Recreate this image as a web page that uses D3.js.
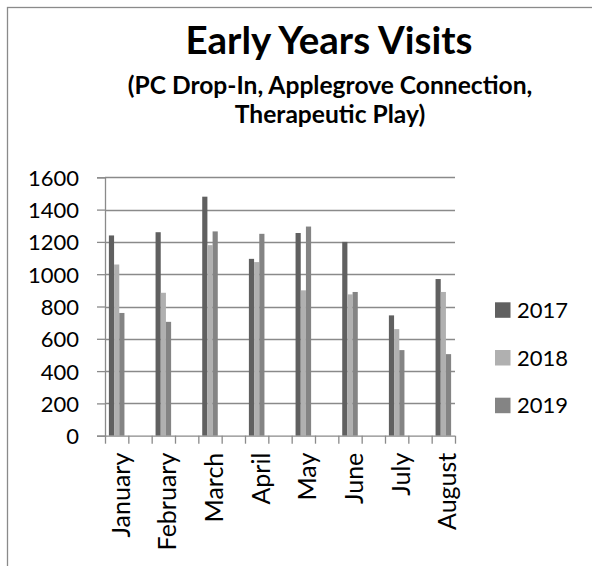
<!DOCTYPE html>
<html><head><meta charset="utf-8">
<script src="https://cdn.jsdelivr.net/npm/d3@7"></script>
<style>html,body{margin:0;padding:0;background:#fff;}svg{display:block;}</style>
</head><body>
<script>
const categories = ["January","February","March","April","May","June","July","August"];
const seriesNames = ["2017","2018","2019"];
const s2017 = [1240, 1260, 1480, 1095, 1255, 1200, 745, 970];
const s2018 = [1060, 885, 1180, 1075, 900, 875, 660, 890];
const s2019 = [760, 705, 1265, 1250, 1295, 890, 530, 505];
const yTicks = [0, 200, 400, 600, 800, 1000, 1200, 1400, 1600];
const titleText = "Early Years Visits";
const subtitleLines = ["(PC Drop-In, Applegrove Connection,", "Therapeutic Play)"];
const colors = ["#606060", "#b0b0b0", "#848484"];

(function () {
const W = 592, H = 566;
const seriesData = [s2017, s2018, s2019];
const svg = d3.select("body").append("svg").attr("width", W).attr("height", H);
const font = "Lato, 'Open Sans', sans-serif";

// chart border (cropped on right/bottom)
svg.append("rect").attr("x", 7.5).attr("y", 7.5).attr("width", 700).attr("height", 700)
  .attr("fill", "none").attr("stroke", "#8a8a8a").attr("stroke-width", 1.3);

// title
svg.append("text").attr("x", 329).attr("y", 54).attr("text-anchor", "middle")
  .attr("font-family", font).attr("font-weight", "bold").attr("font-size", 38.5).attr("fill", "#000")
  .text(titleText);
subtitleLines.forEach((t, i) => {
  svg.append("text").attr("x", 330).attr("y", 94 + i * 29).attr("text-anchor", "middle")
    .attr("font-family", font).attr("font-weight", "bold").attr("font-size", 24.6).attr("fill", "#000")
    .text(t);
});

const pl = 105, pr = 455, pt = 177.3, pb = 435.7;
const y = d3.scaleLinear().domain([0, 1600]).range([pb, pt]);

// slots: categories interleaved with empty slots
const slots = [];
categories.forEach((c, i) => { slots.push(c); if (i < categories.length - 1) slots.push("gap" + i); });
const xSlot = d3.scaleBand().domain(slots).range([pl, pr]).paddingInner(0).paddingOuter(0);
const xInner = d3.scaleBand().domain(seriesNames).range([0, xSlot.bandwidth()]).paddingInner(0).paddingOuter(0.75);

// gridlines
svg.append("g").selectAll("line").data(yTicks.filter(v => v > 0)).join("line")
  .attr("x1", pl).attr("x2", pr).attr("y1", d => Math.round(y(d)) + 0.5).attr("y2", d => Math.round(y(d)) + 0.5)
  .attr("stroke", "#8a8a8a").attr("stroke-width", 1.3);

// bars
seriesNames.forEach((s, si) => {
  svg.append("g").selectAll("rect").data(categories).join("rect")
    .attr("x", (c) => xSlot(c) + xInner(s))
    .attr("width", xInner.bandwidth())
    .attr("y", (c, i) => y(seriesData[si][i]))
    .attr("height", (c, i) => y(0) - y(seriesData[si][i]))
    .attr("fill", colors[si]);
});

// y axis
const yAxis = svg.append("g").attr("transform", `translate(${pl},0)`)
  .call(d3.axisLeft(y).tickValues(yTicks).tickSize(8).tickPadding(18).tickFormat(d3.format("d")));
yAxis.select(".domain").attr("stroke", "#8a8a8a").attr("stroke-width", 1.3);
yAxis.selectAll(".tick line").attr("stroke", "#8a8a8a").attr("stroke-width", 1.3);
yAxis.selectAll(".tick text").attr("font-family", font).attr("font-size", 22).attr("fill", "#000").attr("dy", "0.36em");

// x axis
const xLin = d3.scaleLinear().domain([0, slots.length]).range([pl, pr]);
const xAxis = svg.append("g").attr("transform", `translate(0,${pb})`)
  .call(d3.axisBottom(xLin).tickValues(d3.range(slots.length + 1)).tickSize(8).tickFormat(""));
xAxis.select(".domain").attr("stroke", "#8a8a8a").attr("stroke-width", 1.3).attr("d", `M${pl},0.5H${pr}`);
xAxis.selectAll(".tick line").attr("stroke", "#8a8a8a").attr("stroke-width", 1.3);

// x labels rotated
svg.append("g").selectAll("text").data(categories).join("text")
  .attr("transform", c => `translate(${xSlot(c) + xSlot.bandwidth() / 2 + 3},${pb + 17}) rotate(-90)`)
  .attr("text-anchor", "end").attr("dominant-baseline", "central")
  .attr("font-family", font).attr("font-size", 25).attr("fill", "#000")
  .text(c => c);

// legend
const lg = svg.append("g");
seriesNames.forEach((s, i) => {
  const cy = 310 + i * 47.7;
  lg.append("rect").attr("x", 495).attr("y", cy - 7.7).attr("width", 15.5).attr("height", 15.5).attr("fill", colors[i]);
  lg.append("text").attr("x", 517).attr("y", cy).attr("dy", "0.36em")
    .attr("font-family", font).attr("font-size", 22).attr("fill", "#000").text(s);
});
})();
</script>
</body></html>
